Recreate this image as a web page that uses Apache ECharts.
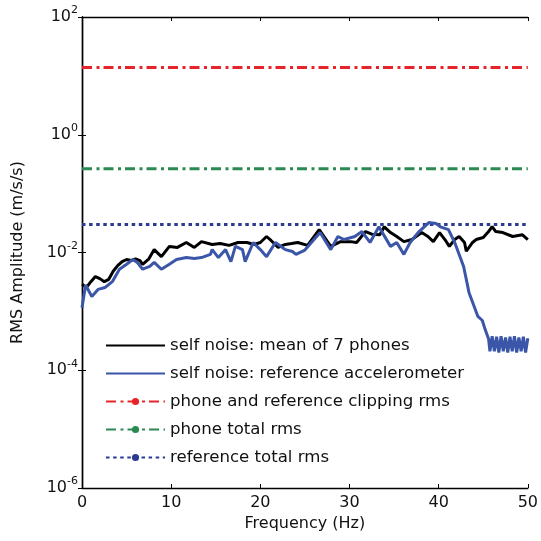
<!DOCTYPE html>
<html>
<head>
<meta charset="utf-8">
<script src="https://cdn.jsdelivr.net/npm/echarts@6/dist/echarts.min.js"></script>
<style>
  html, body { margin: 0; padding: 0; background: #fff; }
  #chart { width: 541px; height: 541px; }
</style>
</head>
<body>
<div id="chart"></div>
<script>
// Self-noise spectra (RMS amplitude, m/s/s) versus frequency (Hz)
const phoneFreq = [0, 0.5, 1.0, 1.5, 2.0, 2.5, 3.0, 3.5, 4.0, 4.5, 5.0, 5.5, 6.0, 6.5, 6.8, 7.5, 8.1, 8.9, 9.8,
  10.7, 11.7, 12.6, 13.4, 14.6, 15.5, 16.5, 17.5, 18.5, 19.3, 20.0, 20.7, 21.2, 22.0, 22.8, 23.5, 24.2, 25.3,
  26.6, 27.9, 29.0, 30.1, 30.8, 31.8, 32.5, 33.4, 33.9, 34.6, 35.3, 36.1, 37.0, 38.1, 38.8, 39.4, 40.1, 40.7,
  41.2, 41.8, 42.3, 42.9, 43.1, 43.8, 44.2, 45.0, 45.6, 46.0, 46.4, 47.2, 48.3, 49.4, 50.0];
const phoneNoise = [0.0029, 0.00255, 0.0032, 0.0039, 0.0036, 0.0032, 0.0035, 0.0048, 0.0060, 0.0070, 0.0076, 0.0073,
  0.0078, 0.0073, 0.0063, 0.0078, 0.0112, 0.0085, 0.0127,
  0.0122, 0.0148, 0.0122, 0.0153, 0.0137, 0.0142, 0.0132, 0.0148, 0.0148, 0.0137, 0.0148, 0.0187, 0.0160,
  0.0122, 0.0137, 0.0142, 0.0148, 0.0132,
  0.0245, 0.0127, 0.0153, 0.0153, 0.0148, 0.0227, 0.0205, 0.0200, 0.0273, 0.0218, 0.0187, 0.0153, 0.0166,
  0.0218, 0.0187, 0.0153, 0.0218, 0.0166,
  0.0127, 0.0166, 0.0187, 0.0148, 0.0105, 0.0148, 0.0166, 0.0180, 0.0227, 0.0276, 0.0227, 0.0218, 0.0187,
  0.0200, 0.0166];

const refFreq = [0, 0.4, 1.1, 1.8, 2.6, 3.4, 4.2, 5.0, 5.7, 6.2, 6.8, 7.6, 8.1, 8.9, 9.8, 10.6, 11.7, 12.6,
  13.4, 14.4, 14.6, 15.3, 16.1, 16.7, 17.2, 18.0, 18.3, 19.2, 20.0, 20.7, 21.7, 22.8, 23.6, 24.0, 25.0,
  26.7, 27.9, 28.7, 29.4, 30.6, 31.4, 32.3, 33.3, 34.6, 35.3, 36.1, 36.8, 37.8, 38.9, 39.7, 40.2, 41.1,
  41.8, 42.8, 43.4, 44.4, 44.9, 45.2, 45.6,
  45.75, 46.0, 46.25, 46.5, 46.75, 47.0, 47.25, 47.5, 47.75, 48.0, 48.25, 48.5, 48.75, 49.0, 49.25, 49.5,
  49.75, 50.0];
const refNoise = [0.00115, 0.0028, 0.00179, 0.00236, 0.00255, 0.0032, 0.0052, 0.0063, 0.0076, 0.0068, 0.0052,
  0.0058, 0.0068, 0.0052, 0.0063, 0.0076, 0.0082, 0.0079,
  0.0082, 0.0093, 0.0112, 0.0082, 0.0112, 0.0070, 0.0127, 0.0112, 0.0070, 0.0148, 0.0112, 0.0085, 0.0148,
  0.0112, 0.0104, 0.0093, 0.0110,
  0.0218, 0.0112, 0.0187, 0.0166, 0.0187, 0.0227, 0.0148, 0.0273, 0.0127, 0.0148, 0.0093, 0.0148, 0.0227,
  0.0322, 0.0310, 0.0273, 0.0245,
  0.0148, 0.0058, 0.0021, 0.00082, 0.00070, 0.00050, 0.00034,
  0.00021, 0.00038, 0.00021, 0.00037, 0.00020, 0.00038, 0.00021, 0.00036, 0.00020, 0.00037, 0.00021,
  0.00038, 0.00020, 0.00036, 0.00021, 0.00037, 0.00020, 0.00035];

// Constant reference levels
const clipRms = 13.9;
const phoneTotalRms = 0.265;
const refTotalRms = 0.0298;

const seriesNames = [
  'self noise: mean of 7 phones',
  'self noise: reference accelerometer',
  'phone and reference clipping rms',
  'phone total rms',
  'reference total rms'
];
const xTicks = [0, 10, 20, 30, 40, 50];

const pairs = (xs, ys) => xs.map((x, i) => [x, ys[i]]);
const level = v => [[xTicks[0], v], [xTicks[xTicks.length - 1], v]];

const FONT = 'DejaVu Sans';
const chart = echarts.init(document.getElementById('chart'), null, { renderer: 'canvas' });

const tickStyle = { show: true, inside: true, length: 4, lineStyle: { color: '#000', width: 1 } };
const lineAxis = { show: true, lineStyle: { color: '#000', width: 1.4 } };
const dashDot = [10, 4.5, 3, 4];

chart.setOption({
  animation: false,
  backgroundColor: '#fff',
  grid: { left: 82, right: 10, top: 17, bottom: 53, containLabel: false },
  xAxis: [{
    type: 'value', min: 0, max: 50, interval: 10,
    name: 'Frequency (Hz)', nameLocation: 'middle', nameGap: 28,
    nameTextStyle: { fontFamily: FONT, fontSize: 16, color: '#111' },
    axisLine: lineAxis, axisTick: tickStyle,
    axisLabel: { fontFamily: FONT, fontSize: 16, color: '#111', margin: 7 },
    splitLine: { show: false }
  }, {
    type: 'value', min: 0, max: 50, interval: 10, position: 'top',
    axisLine: lineAxis, axisTick: tickStyle, axisLabel: { show: false }, splitLine: { show: false }
  }],
  yAxis: [{
    type: 'log', logBase: 10, min: 1e-6, max: 1e2, interval: 2,
    name: 'RMS Amplitude (m/s/s)', nameLocation: 'middle', nameGap: 56,
    nameTextStyle: { fontFamily: FONT, fontSize: 16, color: '#111' },
    axisLine: lineAxis, axisTick: tickStyle, minorTick: { show: false },
    splitLine: { show: false },
    axisLabel: {
      margin: 4,
      formatter: v => '{b|10}{s|' + Math.round(Math.log10(v)) + '}',
      rich: {
        b: { fontFamily: FONT, fontSize: 16, color: '#111' },
        s: { fontFamily: FONT, fontSize: 11, color: '#111', padding: [0, 0, 13, 0] }
      }
    }
  }, {
    type: 'log', logBase: 10, min: 1e-6, max: 1e2, interval: 2, position: 'right',
    axisLine: lineAxis, axisTick: tickStyle, axisLabel: { show: false }, splitLine: { show: false }
  }],
  legend: {
    left: 105, top: 337, orient: 'vertical', padding: 0,
    itemWidth: 59, itemHeight: 9, itemGap: 11,
    textStyle: { fontFamily: FONT, fontSize: 16.6, color: '#111' },
    data: [
      { name: seriesNames[0], itemStyle: { opacity: 0 } },
      { name: seriesNames[1], itemStyle: { opacity: 0 } },
      { name: seriesNames[2] },
      { name: seriesNames[3] },
      { name: seriesNames[4] }
    ]
  },
  series: [
    {
      name: seriesNames[2], type: 'line', data: level(clipRms), symbol: 'circle', showSymbol: false,
      lineStyle: { color: '#e8242b', width: 3, type: dashDot }, itemStyle: { color: '#e8242b' }, z: 3
    },
    {
      name: seriesNames[3], type: 'line', data: level(phoneTotalRms), symbol: 'circle', showSymbol: false,
      lineStyle: { color: '#2a8a52', width: 3, type: dashDot }, itemStyle: { color: '#2a8a52' }, z: 3
    },
    {
      name: seriesNames[4], type: 'line', data: level(refTotalRms), symbol: 'circle', showSymbol: false,
      lineStyle: { color: '#2b3a92', width: 3, type: [3.5, 3.6] }, itemStyle: { color: '#2b3a92' }, z: 3
    },
    {
      name: seriesNames[0], type: 'line', data: pairs(phoneFreq, phoneNoise), symbol: 'none',
      lineStyle: { color: '#000', width: 3 }, itemStyle: { color: '#000' }, z: 4
    },
    {
      name: seriesNames[1], type: 'line', data: pairs(refFreq, refNoise), symbol: 'none',
      lineStyle: { color: '#3b56a8', width: 3 }, itemStyle: { color: '#3b56a8' }, z: 5
    }
  ]
});
</script>
</body>
</html>
